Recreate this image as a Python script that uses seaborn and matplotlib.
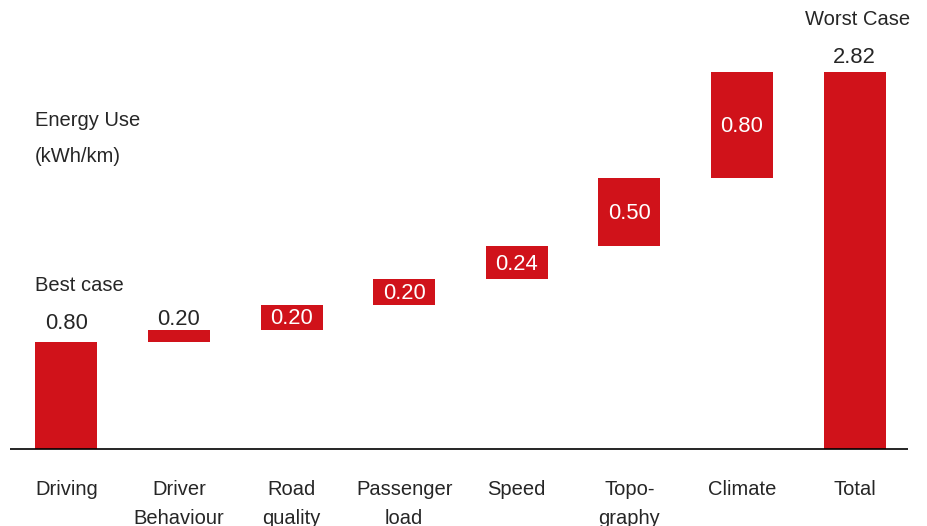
import matplotlib
matplotlib.use("Agg")
import matplotlib.pyplot as plt
import seaborn as sns
import pandas as pd

# ---- data ----
categories = ["Driving", "Driver\nBehaviour", "Road\nquality", "Passenger\nload",
              "Speed", "Topo-\ngraphy", "Climate", "Total"]
# drawn bar heights (kWh/km) as they appear in the picture
step_heights = [0.80, 0.09, 0.19, 0.19, 0.25, 0.51, 0.79]
total_value = 2.82
# printed value labels
value_labels = ["0.80", "0.20", "0.20", "0.20", "0.24", "0.50", "0.80", "2.82"]

# build waterfall table
bottoms, heights = [], []
run = 0.0
for h in step_heights:
    bottoms.append(run)
    heights.append(h)
    run += h
bottoms.append(0.0)
heights.append(total_value)
df = pd.DataFrame({"category": categories, "height": heights, "bottom": bottoms})

RED = "#d0121a"
TXT = "#262626"
FS_TXT = 14.5
FS_NUM = 15.8

sns.set_theme(style="white")
plt.rcParams["font.family"] = ["Liberation Sans", "DejaVu Sans"]

W, H = 928, 526
fig = plt.figure(figsize=(W / 100, H / 100), dpi=100)
base_px = 449
px_per_unit = (449 - 72) / total_value
ax = fig.add_axes([10 / W, 0, 901 / W, 1])

sns.barplot(data=df, x="category", y="height", bottom=df["bottom"].values,
            color=RED, saturation=1, width=0.55, ax=ax, edgecolor="none")

ax.set_xlim(-0.5, 7.5)
ax.set_ylim(-(H - base_px) / px_per_unit, base_px / px_per_unit)
ax.axis("off")
ax.plot([-0.5, 7.47], [0, 0], color="black", lw=1.2, solid_capstyle="butt")

def py(pix):
    return (base_px - pix) / px_per_unit

# category labels (second lines run off the bottom edge, as in the reference)
for i, c in enumerate(categories):
    ax.text(i, py(480), c, ha="center", va="top", fontsize=FS_TXT, color=TXT,
            linespacing=1.68)

# value labels
inside = [False, False, True, True, True, True, True, False]
above_px = [19, 11, 0, 0, 0, 0, 0, 15]
for i, (lab, b, h) in enumerate(zip(value_labels, bottoms, heights)):
    top = b + h
    if inside[i]:
        ax.text(i, b + h / 2 - 1.5 / px_per_unit, lab, ha="center", va="center",
                fontsize=FS_NUM, color="white")
    else:
        ax.text(i, top + above_px[i] / px_per_unit, lab, ha="center", va="center",
                fontsize=FS_NUM, color=TXT)

# annotations
x0 = -0.5 + 25 / 112.6
ax.text(x0, py(120), "Energy Use", ha="left", va="center", fontsize=FS_TXT, color=TXT)
ax.text(x0, py(156), "(kWh/km)", ha="left", va="center", fontsize=FS_TXT, color=TXT)
ax.text(x0, py(285), "Best case", ha="left", va="center", fontsize=FS_TXT, color=TXT)
ax.text(7 + 3 / 112.6, py(19), "Worst Case", ha="center", va="center", fontsize=FS_TXT, color=TXT)

fig.savefig("out.png", dpi=100)
